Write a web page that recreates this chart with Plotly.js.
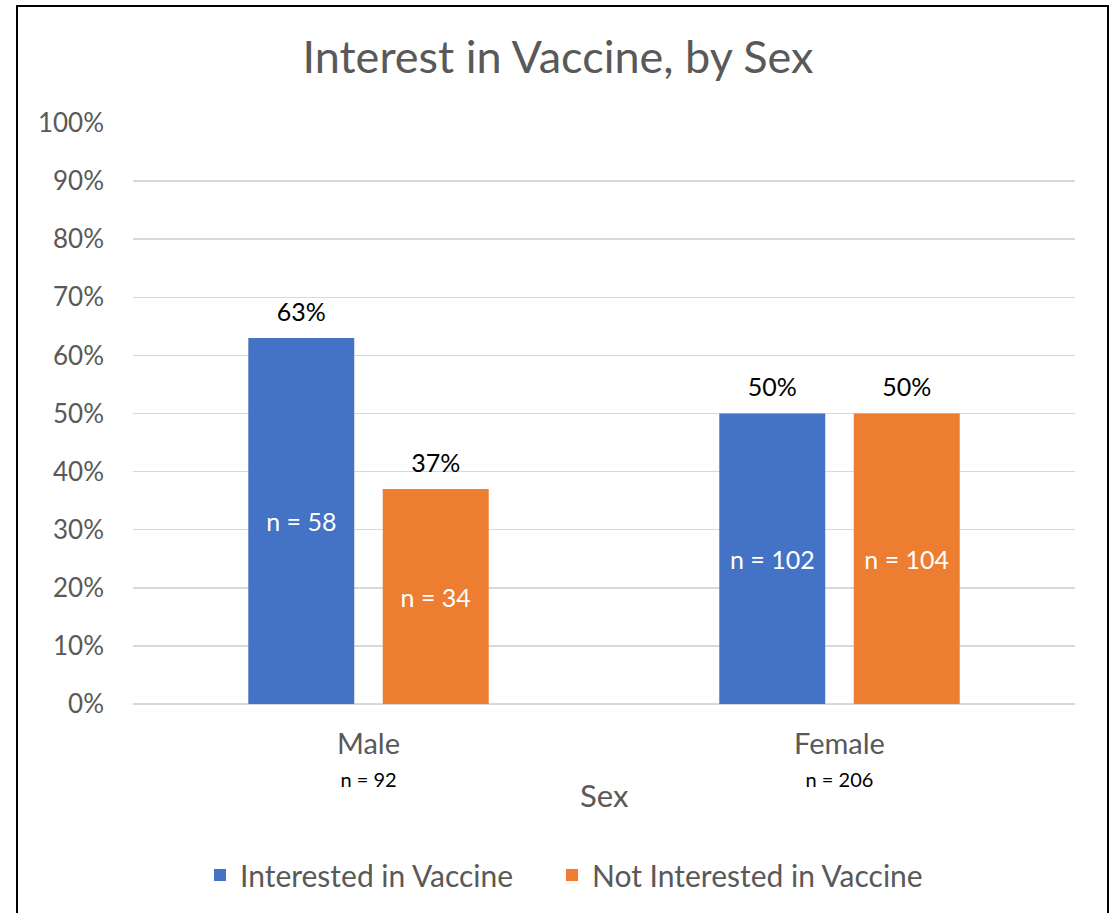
<!DOCTYPE html>
<html>
<head>
<meta charset="utf-8">
<script src="https://cdn.plot.ly/plotly-3.0.1.min.js"></script>
<style>
  html, body { margin: 0; padding: 0; background: #fff; }
  #wrap { position: relative; width: 1116px; height: 913px; overflow: hidden; }
  #chart { width: 1116px; height: 913px; }
  #frame { position: absolute; left: 16px; top: 5px; width: 1093px; height: 940px;
           border: 2px solid #000; box-sizing: border-box; pointer-events: none; }
</style>
</head>
<body>
<div id="wrap">
  <div id="chart"></div>
  <div id="frame"></div>
</div>
<script>
const categories = ["Male", "Female"];
const categoryN = ["n = 92", "n = 206"];
const seriesNames = ["Interested in Vaccine", "Not Interested in Vaccine"];
const interestedPct = [63, 50];
const notInterestedPct = [37, 50];
const interestedN = ["n = 58", "n = 102"];
const notInterestedN = ["n = 34", "n = 104"];
const yTickVals = [0, 10, 20, 30, 40, 50, 60, 70, 80, 90, 100];
const yTickLabels = ["0%", "10%", "20%", "30%", "40%", "50%", "60%", "70%", "80%", "90%", "100%"];
const xAxisTitle = "Sex";

const FONT = "Lato, 'Open Sans', sans-serif";
const GREY = "#595959";
const BLUE = "#4472C4";
const ORANGE = "#ED7D31";
const GAP = 0.429;

const tickText = categories.map((c, i) =>
  "<span style=\"font-size:29px\">" + c + "</span><br><span style=\"font-size:20px;color:#000000\">" + categoryN[i] + "</span>");

function mainBar(name, y, nText, color, group, legendId) {
  return {
    type: "bar", name: name, x: categories, y: y, offsetgroup: group, legend: legendId,
    marker: { color: color },
    text: nText, textposition: "inside", insidetextanchor: "middle",
    textfont: { family: FONT, size: 25, color: "#ffffff" },
    hoverinfo: "skip", cliponaxis: false
  };
}
function valueLabels(y, group) {
  return {
    type: "scatter", mode: "markers+text", x: categories, y: y, offsetgroup: group,
    showlegend: false,
    marker: { size: 16, color: "rgba(0,0,0,0)" },
    text: y.map(v => v + "%"), textposition: "top center",
    textfont: { family: FONT, size: 25, color: "#000000" },
    hoverinfo: "skip", cliponaxis: false
  };
}

const data = [
  mainBar(seriesNames[0], interestedPct, interestedN, BLUE, "a", "legend"),
  mainBar(seriesNames[1], notInterestedPct, notInterestedN, ORANGE, "b", "legend2"),
  valueLabels(interestedPct, "a"),
  valueLabels(notInterestedPct, "b")
];

const legendBase = {
  orientation: "h", xref: "container", yref: "container",
  xanchor: "left", y: (913-875)/913, yanchor: "middle",
  font: { family: FONT, size: 30, color: GREY }, itemwidth: 30
};

const layout = {
  width: 1116, height: 913,
  margin: { l: 133, r: 41, t: 123, b: 209 },
  paper_bgcolor: "rgba(0,0,0,0)", plot_bgcolor: "#ffffff",
  font: { family: FONT, color: GREY },
  title: { text: "Interest in Vaccine, by Sex", font: { family: FONT, size: 45, color: GREY },
           x: 0.5, xref: "container", xanchor: "center", y: 1 - 57/913, yanchor: "middle" },
  barmode: "group", bargap: GAP, bargroupgap: 0.212,
  scattermode: "group", scattergap: GAP,
  xaxis: {
    type: "category", tickvals: categories, ticktext: tickText,
    tickfont: { family: FONT, size: 25, color: GREY },
    showgrid: false, showline: false, zeroline: false, ticks: "",
    ticklabelstandoff: 24
  },
  yaxis: {
    range: [0, 100], tickvals: yTickVals, ticktext: yTickLabels,
    tickfont: { family: FONT, size: 26, color: GREY },
    showgrid: true, gridcolor: "#d9d9d9", gridwidth: 1.5,
    zeroline: true, zerolinecolor: "#d9d9d9", zerolinewidth: 1.5,
    showline: false, ticks: "", ticklabelstandoff: 28, fixedrange: true
  },
  annotations: [{
    text: xAxisTitle, xref: "paper", yref: "paper", x: 0.5, xanchor: "center",
    y: -(795 - 704) / 581, yanchor: "middle", showarrow: false,
    font: { family: FONT, size: 31, color: GREY }
  }],
  showlegend: true,
  legend: Object.assign({}, legendBase, { x: 200/1116 }),
  legend2: Object.assign({}, legendBase, { x: 552/1116 })
};

Plotly.newPlot("chart", data, layout, { staticPlot: true, displayModeBar: false });
</script>
</body>
</html>
